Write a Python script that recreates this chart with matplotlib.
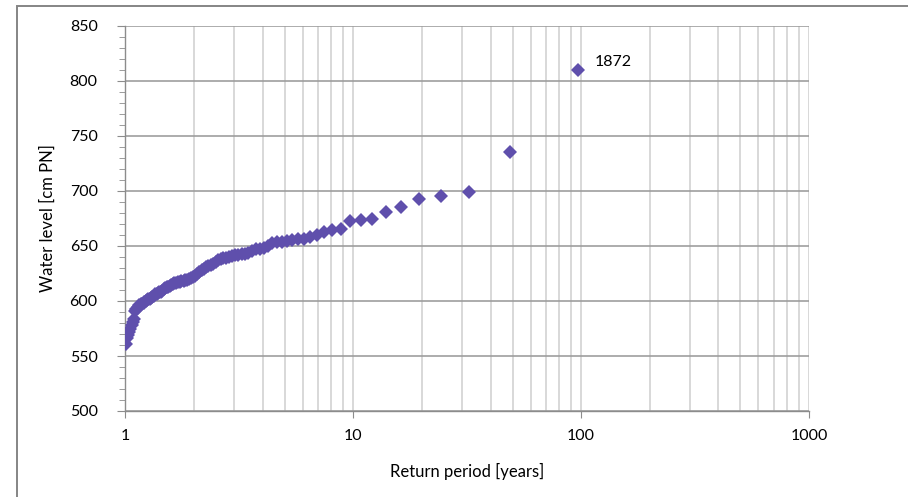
import matplotlib
matplotlib.use("Agg")
import matplotlib.pyplot as plt
import matplotlib.patches as patches
from matplotlib.ticker import MultipleLocator, LogLocator, FixedLocator, NullFormatter

plt.rcParams['font.family'] = ['Lato', 'DejaVu Sans']

# return periods [years] and observed annual maxima [cm PN], ranked from highest
return_period = [
    97, 48.5, 32.33, 24.25, 19.4, 16.17, 13.86, 12.13, 10.78, 9.7,
    8.82, 8.08, 7.46, 6.93, 6.47, 6.06, 5.71, 5.39, 5.11, 4.85,
    4.62, 4.41, 4.22, 4.04, 3.88, 3.73, 3.59, 3.46, 3.34, 3.23,
    3.13, 3.03, 2.94, 2.85, 2.77, 2.69, 2.62, 2.55, 2.49, 2.43,
    2.37, 2.31, 2.26, 2.2, 2.16, 2.11, 2.06, 2.02, 1.98, 1.94,
    1.9, 1.87, 1.83, 1.8, 1.76, 1.73, 1.7, 1.67, 1.64, 1.62,
    1.59, 1.56, 1.54, 1.52, 1.49, 1.47, 1.45, 1.43, 1.41, 1.39,
    1.37, 1.35, 1.33, 1.31, 1.29, 1.28, 1.26, 1.24, 1.23, 1.21,
    1.2, 1.18, 1.17, 1.15, 1.14, 1.13, 1.11, 1.1, 1.09, 1.08,
    1.07, 1.05, 1.04, 1.03, 1.02, 1.01,
]
water_level = [
    810, 735, 699, 695, 692.5, 685, 681, 674.5, 673.5, 673,
    665.5, 664.5, 663, 660, 658, 656.5, 656, 655, 654.5, 654,
    653.5, 653, 650, 648, 647.5, 647, 645.5, 643.5, 643, 642.5,
    642, 641.5, 641, 640, 639.5, 639, 638, 637, 635.5, 634,
    633, 632, 630.5, 629, 628, 626.5, 624.5, 622.5, 621.5, 621,
    620, 619.5, 619, 618.5, 618, 617.5, 617, 616.5, 616, 615.5,
    615, 614, 613, 612.5, 611.5, 610.5, 609.5, 608.5, 608, 607,
    606.5, 606, 605, 604, 603, 602, 601.5, 600.5, 600, 599,
    598.5, 597.5, 597, 596, 595, 594, 592.5, 591, 584, 581,
    578, 575, 572, 569, 566, 561,
]
max_label = "1872"

W, H = 908, 497
fig = plt.figure(figsize=(W / 100, H / 100), dpi=100)
fig.patch.set_facecolor('white')

# chart frame, cut off by the image edges on the right and bottom
fig.add_artist(patches.Rectangle((17 / W, -0.1), 1.2, 1 - 6 / H + 0.1,
                                 transform=fig.transFigure, fill=False,
                                 edgecolor='#858585', linewidth=1.4))

ax = fig.add_axes([125.5 / W, 1 - 411 / H, (809 - 125.5) / W, (411 - 26) / H])
ax.set_xscale('log')
ax.set_xlim(1, 1000)
ax.set_ylim(500, 850)

ax.yaxis.set_major_locator(MultipleLocator(50))
ax.yaxis.set_minor_locator(MultipleLocator(10))
ax.xaxis.set_major_locator(FixedLocator([1, 10, 100, 1000]))
ax.xaxis.set_minor_locator(LogLocator(base=10, subs=range(2, 10)))
ax.xaxis.set_minor_formatter(NullFormatter())
ax.set_xticklabels(['1', '10', '100', '1000'])

ax.grid(True, which='major', axis='y', color='#9e9e9e', linewidth=1.2)
ax.grid(True, which='both', axis='x', color='#d2d2d2', linewidth=1.2)
ax.set_axisbelow(True)

for side in ['top', 'right']:
    ax.spines[side].set_visible(False)
for side in ['left', 'bottom']:
    ax.spines[side].set_color('#8c8c8c')
    ax.spines[side].set_linewidth(1.0)

ax.tick_params(axis='y', which='major', length=6, color='#8c8c8c',
               labelsize=11.5, pad=14)
ax.tick_params(axis='y', which='minor', length=4, color='#8c8c8c')
ax.tick_params(axis='x', which='major', length=5, color='#8c8c8c',
               labelsize=11.5, pad=8)
ax.tick_params(axis='x', which='minor', length=0)

ax.plot(return_period, water_level, linestyle='none', marker='D',
        markersize=7, color='#5f4fac', markeredgewidth=0, zorder=3)

ax.annotate(max_label, xy=(return_period[0], water_level[0]),
            xytext=(12, 6), textcoords='offset points',
            fontsize=11.5, ha='left', va='center')

ax.set_xlabel('Return period [years]', fontsize=12, labelpad=14)
ax.set_ylabel('Water level [cm PN]', fontsize=12, labelpad=10)

fig.savefig('out.png', dpi=100)
